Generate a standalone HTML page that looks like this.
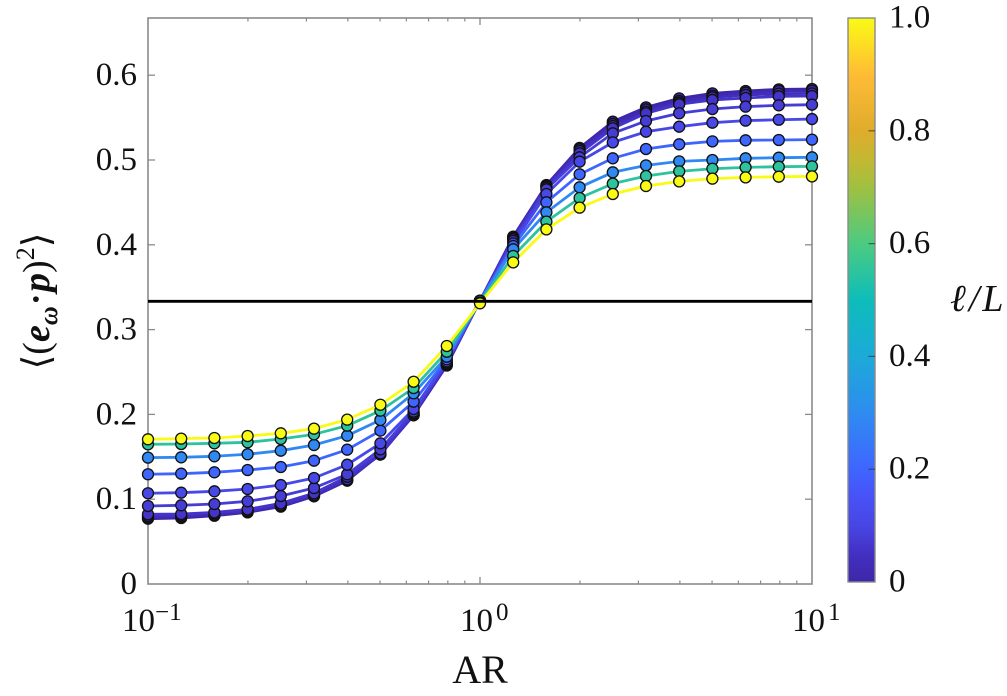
<!DOCTYPE html>
<html lang="en">
<head>
<meta charset="utf-8">
<title>Alignment versus aspect ratio</title>
<style>
html,body{margin:0;padding:0;background:#fff;width:1007px;height:696px;overflow:hidden}
svg{display:block}
text{font-family:"Liberation Serif","DejaVu Serif",serif;fill:#111}
</style>
</head>
<body>
<svg id="chart" xmlns="http://www.w3.org/2000/svg" width="1007" height="696" viewBox="0 0 1007 696">
  <defs>
    <linearGradient id="cbar-gradient" x1="0" y1="1" x2="0" y2="0"></linearGradient>
  </defs>
  <rect x="0" y="0" width="1007" height="696" fill="#fff"></rect>
  <g id="plot-axes"></g>
  <g id="plot-lines"></g>
  <g id="reference"></g>
  <g id="colorbar"></g>
  <text x="480" y="683" text-anchor="middle" font-size="40">AR</text>
  <text transform="translate(49,301) rotate(-90)" text-anchor="middle" font-size="38">⟨(<tspan font-weight="bold" font-style="italic">e</tspan><tspan font-weight="bold" font-style="italic" font-size="26" dy="8">ω</tspan><tspan font-size="24" dy="-13" dx="3">•</tspan><tspan font-weight="bold" font-style="italic" dy="5" dx="3">p</tspan>)<tspan font-size="26" dy="-15">2</tspan><tspan dy="15">⟩</tspan></text>
  <text x="950" y="311" font-size="38" font-style="italic" letter-spacing="3">ℓ/L</text>
</svg>
<script>
// ---- chart data ----
const arExponents = [-1,-0.9,-0.8,-0.7,-0.6,-0.5,-0.4,-0.3,-0.2,-0.1,0,0.1,0.2,0.3,0.4,0.5,0.6,0.7,0.8,0.9,1];
const ellOverL = [0.001,0.02,0.04,0.06,0.08,0.11,0.2,0.29,0.55,1.0];
const series01 = [.0770,.0778,.0805,.0845,.0912,.1034,.1218,.1533,.1989,.2577,.3340,.4096,.4705,.5142,.5452,.5621,.5727,.5786,.5814,.5833,.5837];
const series02 = [.0786,.0794,.0817,.0857,.0923,.1041,.1226,.1533,.1993,.2586,.3340,.4085,.4695,.5126,.5425,.5597,.5696,.5758,.5794,.5814,.5817];
const series03 = [.0802,.0810,.0834,.0864,.0932,.1050,.1235,.1525,.2000,.2592,.3340,.4075,.4685,.5106,.5401,.5570,.5676,.5739,.5767,.5782,.5786];
const series04 = [.0822,.0825,.0845,.0880,.0951,.1070,.1265,.1541,.2015,.2600,.3340,.4065,.4670,.5079,.5374,.5551,.5657,.5708,.5731,.5751,.5755];
const series05 = [.0920,.0928,.0943,.0975,.1038,.1132,.1294,.1588,.2032,.2612,.3340,.4045,.4654,.5032,.5315,.5460,.5551,.5601,.5629,.5645,.5652];
const series06 = [.1070,.1077,.1093,.1120,.1167,.1250,.1407,.1659,.2064,.2624,.3340,.4017,.4599,.4980,.5208,.5334,.5393,.5440,.5464,.5475,.5483];
const series07 = [.1294,.1301,.1317,.1344,.1380,.1454,.1584,.1808,.2150,.2650,.3340,.3986,.4501,.4831,.5020,.5130,.5185,.5220,.5232,.5236,.5240];
const series08 = [.1490,.1494,.1506,.1530,.1572,.1639,.1749,.1934,.2249,.2680,.3340,.3947,.4383,.4678,.4855,.4937,.4984,.5000,.5020,.5027,.5032];
const series09 = [.1647,.1651,.1659,.1671,.1710,.1765,.1867,.2044,.2311,.2739,.3320,.3868,.4273,.4552,.4721,.4811,.4866,.4897,.4913,.4921,.4925];
const series10 = [.1706,.1714,.1722,.1745,.1777,.1832,.1938,.2114,.2385,.2807,.3310,.3793,.4182,.4438,.4599,.4693,.4748,.4780,.4795,.4803,.4807];
const referenceValue = [1/3];
const yTicks = [0,0.1,0.2,0.3,0.4,0.5,0.6];
const yTickLabels = ["0","0.1","0.2","0.3","0.4","0.5","0.6"];
const xMajorExponents = [-1,0,1];
const xTickBases = ["10","10","10"];
const xTickPowers = ["\u22121","0","1"];
const xMinorMultipliers = [2,3,4,5,6,7,8,9];
const cbarTicks = [0,0.2,0.4,0.6,0.8,1];
const cbarTickLabels = ["0","0.2","0.4","0.6","0.8","1.0"];
const colormapStops = [0,0.05,0.1,0.15,0.2,0.3,0.4,0.5,0.6,0.7,0.75,0.8,0.9,1];
const colormapColors = ["#3E26A8","#4330C2","#4846E4","#4852F6","#3F65FF","#2E8CF0","#1CAAD8","#0DBDBA","#4CCB80","#A0C040","#C4B832","#DFAC2C","#FFBC35","#FAFB14"];
const allSeries = [series01,series02,series03,series04,series05,series06,series07,series08,series09,series10];

// ---- axis functions ----
const NS = "http://www.w3.org/2000/svg";
const PL = 148, PR = 812, PT = 18, PB = 584;
const CL = 848, CR = 875, CT = 18, CB = 582;
function xScale(exponent){ return PL + (exponent + 1) / 2 * (PR - PL); }
function yScale(v){ return PB - v * 848; }
function cScale(v){ return CB - v * (CB - CT); }
function hex(c){ return [1,3,5].map(i => parseInt(c.substr(i,2),16)); }
function colorOf(v){
  for(let i = 0; i < colormapStops.length - 1; i++){
    if(v <= colormapStops[i+1]){
      const t = (v - colormapStops[i]) / (colormapStops[i+1] - colormapStops[i]);
      const a = hex(colormapColors[i]), b = hex(colormapColors[i+1]);
      return "rgb(" + a.map((q,k) => Math.round(q + (b[k]-q)*t)).join(",") + ")";
    }
  }
  return colormapColors[colormapColors.length-1];
}
function make(tag, attrs, parent){
  const el = document.createElementNS(NS, tag);
  for(const k in attrs) el.setAttribute(k, attrs[k]);
  parent.appendChild(el);
  return el;
}

const linesG = document.getElementById("plot-lines");
const refG = document.getElementById("reference");
const axesG = document.getElementById("plot-axes");
const cbarG = document.getElementById("colorbar");
const grad = document.getElementById("cbar-gradient");
const AXIS = "#8a8a8a";

// series: each line with its markers, darkest first so that yellow lies on top
allSeries.forEach((vals, s) => {
  const color = colorOf(ellOverL[s]);
  const pts = vals.map((v,i) => xScale(arExponents[i]).toFixed(2) + "," + yScale(v).toFixed(2)).join(" ");
  const line = make("polyline", {points: pts, fill: "none", stroke: color, "stroke-width": 2.8, "stroke-linejoin": "round"}, linesG);
  
  
});
allSeries.forEach((vals, s) => {
  const color = colorOf(ellOverL[s]);
  vals.forEach((v,i) => {
    const dot = make("circle", {cx: xScale(arExponents[i]).toFixed(2), cy: yScale(v).toFixed(2), r: 5.5, fill: color, stroke: "#111", "stroke-width": 1.3}, linesG);
    
    
  });
});

// isotropic reference line, above the markers
const refLine = make("line", {x1: PL, x2: PR, y1: yScale(referenceValue[0]), y2: yScale(referenceValue[0]), stroke: "#000", "stroke-width": 2.8}, refG);



// frame
const frame = make("rect", {x: PL, y: PT, width: PR-PL, height: PB-PT, fill: "none", stroke: AXIS, "stroke-width": 1.6}, axesG);



// y ticks and labels
yTicks.forEach((v,i) => {
  const y = yScale(v);
  if(i > 0){
    const a = make("line", {x1: PL, x2: PL+7, y1: y, y2: y, stroke: AXIS, "stroke-width": 1.3}, axesG);
    
    
    const b = make("line", {x1: PR-7, x2: PR, y1: y, y2: y, stroke: AXIS, "stroke-width": 1.3}, axesG);
    
    
  }
  const t = make("text", {x: 137, y: y + 10, "text-anchor": "end", "font-size": 33}, axesG);
  
  
  t.textContent = yTickLabels[i];
});

// x ticks
xMajorExponents.forEach((e,i) => {
  const x = xScale(e);
  if(i > 0 && i < xMajorExponents.length - 1){
    const a = make("line", {x1: x, x2: x, y1: PB-7, y2: PB, stroke: AXIS, "stroke-width": 1.3}, axesG);
    
    
    const b = make("line", {x1: x, x2: x, y1: PT, y2: PT+7, stroke: AXIS, "stroke-width": 1.3}, axesG);
    
    
  }
  if(i < xMajorExponents.length - 1){
    xMinorMultipliers.forEach(m => {
      const mx = xScale(e + Math.log10(m));
      const c = make("line", {x1: mx, x2: mx, y1: PB-3.5, y2: PB, stroke: AXIS, "stroke-width": 1.2}, axesG);
      
      
      const d = make("line", {x1: mx, x2: mx, y1: PT, y2: PT+3.5, stroke: AXIS, "stroke-width": 1.2}, axesG);
      
      
    });
  }
  const label = make("text", {x: x - (i === 0 ? 26 : 20), y: 631, "font-size": 33}, axesG);
  
  
  const base = make("tspan", {}, label);
  base.textContent = xTickBases[i];
  const pow = make("tspan", {"font-size": 25, dy: -11, dx: i === 0 ? 0 : 3}, label);
  pow.textContent = xTickPowers[i];
});

// colorbar
colormapStops.forEach((s,i) => {
  make("stop", {offset: s, "stop-color": colormapColors[i]}, grad);
});
const cRect = make("rect", {x: CL, y: CT, width: CR-CL, height: CB-CT, fill: "url(#cbar-gradient)", stroke: AXIS, "stroke-width": 1.4}, cbarG);


cbarTicks.forEach((v,i) => {
  const y = cScale(v);
  if(i > 0 && i < cbarTicks.length - 1){
    const k = make("line", {x1: CR-6.5, x2: CR, y1: y, y2: y, stroke: "#333", "stroke-opacity": 0.7, "stroke-width": 1.2}, cbarG);
    
    
  }
  const t = make("text", {x: 889, y: y + 9.5, "font-size": 33}, cbarG);
  
  
  t.textContent = cbarTickLabels[i];
});
</script>
</body>
</html>
